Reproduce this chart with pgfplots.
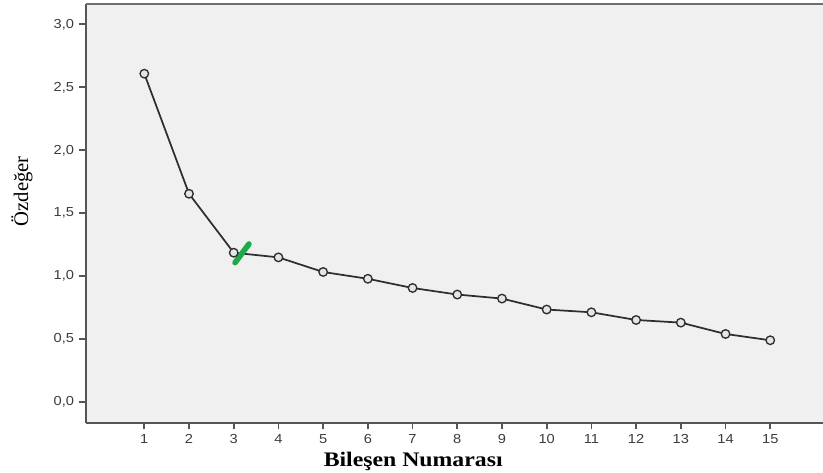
\documentclass[border=0pt]{standalone}
\usepackage{pgfplots}
\pgfplotsset{compat=1.18}
\usepackage{fontspec}
\setmainfont{Liberation Serif}
\newfontfamily\ticksf{Liberation Sans}
\usetikzlibrary{calc}
\definecolor{bg}{HTML}{F0F0F0}
\definecolor{framec}{HTML}{555555}
\definecolor{tickc}{HTML}{3C3C3C}
\definecolor{linec}{HTML}{2E2E2E}
\definecolor{mygreen}{HTML}{1FAA4A}
\begin{document}
\begin{tikzpicture}
\begin{axis}[
  name=ax,
  scale only axis,
  width=552.75pt, height=314pt,
  xmin=-0.304, xmax=16.18,
  ymin=-0.162, ymax=3.161,
  axis x line*=bottom, axis y line*=left,
  axis line style={-, framec, line width=1.5pt},
  axis background/.style={fill=bg},
  xtick={1,...,15}, ytick={0,0.5,...,3},
  tick style={framec, line width=1.3pt},
  tick align=outside, major tick length=5pt,
  tick label style={font=\ticksf\fontsize{9.8}{11}\selectfont, text=tickc, xscale=1.12},
  /pgf/number format/assume math mode=true,
  yticklabel style={/pgf/number format/.cd, use comma, fixed, fixed zerofill, precision=1},
  xlabel={\scalebox{1.15}[1]{\fontsize{15.5}{18}\selectfont\bfseries Bileşen Numarası}},
  xlabel style={at={(rel axis cs:0.444,0)}, anchor=base, inner sep=0pt, yshift=-32.5pt},
  ylabel={\fontsize{15.5}{18}\selectfont Özdeğer},
  ylabel style={at={(rel axis cs:0,0.553)}, anchor=center, inner sep=0pt, yshift=48pt},
  clip=false,
]
\draw[framec!85, line width=1.5pt] (rel axis cs:0,1) -- (rel axis cs:1,1);
\addplot[linec, line width=1.3pt, mark=*, mark size=3.2pt,
  mark options={fill=black!10, draw=linec, line width=1pt}]
  coordinates {
  (1,2.608) (2,1.655) (3,1.187) (4,1.150) (5,1.034) (6,0.980) (7,0.907)
  (8,0.855) (9,0.823) (10,0.736) (11,0.714) (12,0.653) (13,0.632) (14,0.542) (15,0.492)
  };
\addplot[mygreen, line width=4.2pt, line cap=round] coordinates {(3.03,1.108) (3.34,1.256)};
\end{axis}
\pgfresetboundingbox
\path ($(ax.south west)+(-64.5pt,-37pt)$) rectangle ($(ax.north east)+(0,3pt)$);
\end{tikzpicture}
\end{document}
